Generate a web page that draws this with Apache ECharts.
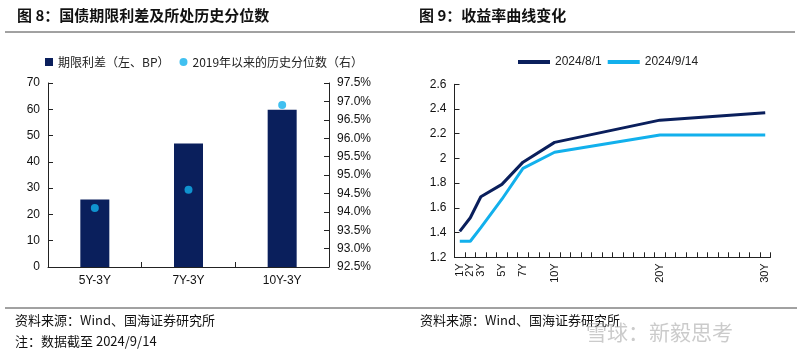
<!DOCTYPE html>
<html><head><meta charset="utf-8">
<script src="https://cdn.jsdelivr.net/npm/echarts@6/dist/echarts.min.js"></script>
<style>html,body{margin:0;padding:0;background:#fff}#c{width:800px;height:359px}</style>
</head><body><div id="c"></div>
<script>
// Left chart data
const spreadCats = ['5Y-3Y', '7Y-3Y', '10Y-3Y'];
const spreadBP = [25.7, 47.0, 59.8];
const spreadPct = [94.1, 94.6, 96.9];
const spreadName = '期限利差（左、BP）';
const pctName = '2019年以来的历史分位数（右）';
// Right chart data
const tenors = [1, 2, 3, 5, 7, 10, 20, 30];
const tenorLabels = ['1Y', '2Y', '3Y', '5Y', '7Y', '10Y', '20Y', '30Y'];
const yield0801 = [1.41, 1.52, 1.69, 1.79, 1.97, 2.13, 2.31, 2.37];
const yield0914 = [1.33, 1.33, 1.44, 1.67, 1.92, 2.05, 2.19, 2.19];
const name0801 = '2024/8/1';
const name0914 = '2024/9/14';

const NAVY = '#0a1f5c';
const CYAN = '#12b0ec';
const FONT = '"Liberation Sans", Arial, "Noto Sans CJK SC", sans-serif';
const CJK = '"Noto Sans CJK SC", "Liberation Sans", sans-serif';
const axisLine = {show: true, lineStyle: {color: '#222', width: 1}};
const axisLbl = {color: '#111', fontSize: 12, fontFamily: FONT};

const chart = echarts.init(document.getElementById('c'), null, {renderer: 'canvas'});
const ticks = [];
for (let v = 0.5; v <= 30.5; v += 1) ticks.push(v);
const labelValues = [0.5].concat(tenors);

chart.setOption({
  animation: false,
  textStyle: {fontFamily: FONT},
  graphic: [
    {type: 'text', left: 17, top: 8, style: {text: '图 8：国债期限利差及所处历史分位数', font: 'bold 15px ' + CJK, fill: '#111'}},
    {type: 'text', left: 419, top: 8, style: {text: '图 9：收益率曲线变化', font: 'bold 15px ' + CJK, fill: '#111'}},
    {type: 'line', shape: {x1: 5, y1: 32, x2: 795, y2: 32}, style: {stroke: '#444', lineWidth: 1}},
    {type: 'line', shape: {x1: 5, y1: 308, x2: 797, y2: 308}, style: {stroke: '#444', lineWidth: 1}},
    {type: 'text', left: 15, top: 314, style: {text: '资料来源：Wind、国海证券研究所', font: '13px ' + CJK, fill: '#111'}},
    {type: 'text', left: 15, top: 335, style: {text: '注：数据截至 2024/9/14', font: '13px ' + CJK, fill: '#111'}},
    {type: 'text', left: 420, top: 314, style: {text: '资料来源：Wind、国海证券研究所', font: '13px ' + CJK, fill: '#111'}},
    {type: 'text', left: 586, top: 322, style: {text: '雪球：新毅思考', font: '21px ' + CJK, fill: 'rgba(160,160,160,0.55)'}}
  ],
  legend: [
    {data: [{name: spreadName, icon: 'rect'}, {name: pctName, icon: 'circle'}],
     left: 40, top: 51, itemWidth: 8, itemHeight: 8, itemGap: 10,
     textStyle: {fontSize: 12, color: '#222', fontFamily: CJK}},
    {data: [{name: name0801, icon: 'rect'}, {name: name0914, icon: 'rect'}],
     left: 513, top: 51, itemWidth: 32, itemHeight: 4, itemGap: 6,
     textStyle: {fontSize: 12, color: '#222', fontFamily: FONT}}
  ],
  grid: [
    {left: 48, top: 83, width: 281, height: 184, containLabel: false},
    {left: 454.5, top: 84.3, width: 316, height: 173, containLabel: false}
  ],
  xAxis: [
    {type: 'category', gridIndex: 0, data: spreadCats, boundaryGap: true,
     axisLine: axisLine, axisTick: {show: true, inside: true, length: 5, lineStyle: {color: '#222'}},
     axisLabel: Object.assign({margin: 8}, axisLbl)},
    {type: 'value', gridIndex: 1, min: 0.5, max: 30.5, interval: 1,
     splitLine: {show: false}, axisLine: axisLine,
     axisTick: {show: true, inside: true, length: 5, customValues: ticks, lineStyle: {color: '#222'}},
     axisLabel: Object.assign({rotate: 90, margin: 6, customValues: labelValues, hideOverlap: false,
       showMinLabel: false,
       formatter: v => tenorLabels[tenors.indexOf(v)] || ''}, axisLbl, {fontSize: 11})}
  ],
  yAxis: [
    {type: 'value', gridIndex: 0, min: 0, max: 70, interval: 10, splitLine: {show: false},
     axisLine: axisLine, axisTick: {show: true, inside: true, length: 5, lineStyle: {color: '#222'}},
     axisLabel: Object.assign({margin: 8}, axisLbl)},
    {type: 'value', gridIndex: 0, position: 'right', min: 92.5, max: 97.5, interval: 0.5, splitLine: {show: false},
     axisLine: axisLine, axisTick: {show: true, inside: true, length: 5, lineStyle: {color: '#222'}},
     axisLabel: Object.assign({margin: 8, formatter: v => v.toFixed(1) + '%'}, axisLbl)},
    {type: 'value', gridIndex: 1, min: 1.2, max: 2.6, interval: 0.2, splitLine: {show: false},
     axisLine: axisLine, axisTick: {show: true, inside: true, length: 5, lineStyle: {color: '#222'}},
     axisLabel: Object.assign({margin: 8, formatter: v => String(+v.toFixed(1))}, axisLbl)}
  ],
  series: [
    {name: spreadName, type: 'bar', xAxisIndex: 0, yAxisIndex: 0, data: spreadBP, barWidth: 29,
     itemStyle: {color: NAVY}},
    {name: pctName, type: 'scatter', xAxisIndex: 0, yAxisIndex: 1, data: spreadPct, symbolSize: 8,
     itemStyle: {color: CYAN}},
    {name: name0801, type: 'line', xAxisIndex: 1, yAxisIndex: 2, symbol: 'none',
     data: tenors.map((t, i) => [t, yield0801[i]]), lineStyle: {color: NAVY, width: 3}, itemStyle: {color: NAVY}},
    {name: name0914, type: 'line', xAxisIndex: 1, yAxisIndex: 2, symbol: 'none',
     data: tenors.map((t, i) => [t, yield0914[i]]), lineStyle: {color: CYAN, width: 3}, itemStyle: {color: CYAN}}
  ]
});
</script></body></html>
